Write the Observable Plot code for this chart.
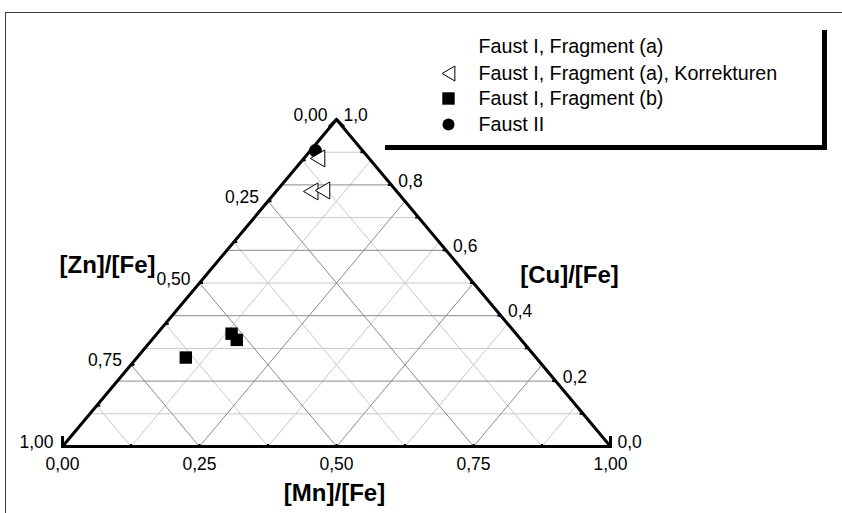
<!DOCTYPE html>
<html><head><meta charset="utf-8">
<script src="https://cdn.jsdelivr.net/npm/d3@7"></script>
<script src="https://cdn.jsdelivr.net/npm/@observablehq/plot@0.6"></script>
<style>
html,body{margin:0;padding:0;background:#fff;}
#wrap{position:relative;width:842px;height:513px;overflow:hidden;background:#fff;}
#wrap svg{position:absolute;left:0;top:0;}
#frame{position:absolute;left:5px;top:12px;width:900px;height:600px;border-left:1px solid #3c3c3c;border-top:1px solid #3c3c3c;pointer-events:none;}
#legendbox{position:absolute;left:385px;top:30px;width:437px;height:115px;border-right:5px solid #000;border-bottom:5px solid #000;pointer-events:none;}
</style></head><body>
<div id="wrap"><div id="frame"></div><div id="legendbox"></div></div>
<script>
// ---------------- data ----------------
const seriesNames = ["Faust I, Fragment (a)", "Faust I, Fragment (a), Korrekturen", "Faust I, Fragment (b)", "Faust II"];
// Faust I, Fragment (a), Korrekturen (open triangles)
const korrZn = [0.094, 0.157, 0.134];
const korrMn = [0.025, 0.063, 0.083];
const korrCu = [0.881, 0.780, 0.783];
// Faust I, Fragment (b) (filled squares)
const fragBZn = [0.639, 0.519, 0.519];
const fragBMn = [0.089, 0.136, 0.155];
const fragBCu = [0.272, 0.345, 0.326];
// Faust II (filled circle)
const faust2Zn = [0.086];
const faust2Mn = [0.009];
const faust2Cu = [0.905];
// tick labels
const mnTickValues = [0, 0.25, 0.5, 0.75, 1];
const mnTickLabels = ["0,00", "0,25", "0,50", "0,75", "1,00"];
const znTickValues = [0, 0.25, 0.5, 0.75, 1];
const znTickLabels = ["0,00", "0,25", "0,50", "0,75", "1,00"];
const cuTickValues = [0, 0.2, 0.4, 0.6, 0.8, 1];
const cuTickLabels = ["0,0", "0,2", "0,4", "0,6", "0,8", "1,0"];
const axisTitles = {zn: "[Zn]/[Fe]", mn: "[Mn]/[Fe]", cu: "[Cu]/[Fe]"};

// ---------------- layout ----------------
const X0 = 62, X1 = 610, Y0 = 446, Y1 = 119;
const ux = px => (px - X0) / (X1 - X0);
const vy = py => (Y0 - py) / (Y0 - Y1);
// ternary (Zn at bottom-left, Mn at bottom-right, Cu at top) -> cartesian
const tern = (zn, mn, cu) => ({u: mn + cu / 2, v: cu});

const pts = (zn, mn, cu) => zn.map((z, i) => tern(z, mn[i], cu[i]));
const korr = pts(korrZn, korrMn, korrCu);
const fragB = pts(fragBZn, fragBMn, fragBCu);
const faust2 = pts(faust2Zn, faust2Mn, faust2Cu);

// grid
const grid = [];
d3.range(1, 10).forEach(k => { const c = k / 10; const a = tern(1 - c, 0, c), b = tern(0, 1 - c, c);
  grid.push({x1: a.u, y1: a.v, x2: b.u, y2: b.v, major: k % 2 === 0}); });
d3.range(1, 8).forEach(k => { const m = k / 8; const a = tern(1 - m, m, 0), b = tern(0, m, 1 - m);
  grid.push({x1: a.u, y1: a.v, x2: b.u, y2: b.v, major: k % 2 === 0}); });
d3.range(1, 8).forEach(k => { const z = k / 8; const a = tern(z, 0, 1 - z), b = tern(z, 1 - z, 0);
  grid.push({x1: a.u, y1: a.v, x2: b.u, y2: b.v, major: k % 2 === 0}); });

const BL = tern(1, 0, 0), BR = tern(0, 1, 0), TP = tern(0, 0, 1);

// symbols
const sym = f => ({draw(ctx, size) { const r = Math.sqrt(size / Math.PI); f(ctx, r); }});
const triLeft = sym((c, r) => { const w = 0.85 * r, h = r; c.moveTo(-w, 0); c.lineTo(w, -h); c.lineTo(w, h); c.closePath(); });
const chevron = sym((c, r) => { c.moveTo(-r, r); c.lineTo(0, 0); c.lineTo(r, r); });
const stub = sym((c, r) => { c.moveTo(0, 0); c.lineTo(r, 0); });

const leftTicks = d3.range(1, 8).map(k => tern(k / 8, 0, 1 - k / 8));
const bottomTicks = d3.range(1, 8).map(k => tern(1 - k / 8, k / 8, 0));
const rightTicks = d3.range(1, 10).map(k => tern(0, 1 - k / 10, k / 10));

const leftLabels = znTickValues.map((z, i) => ({...tern(z, 0, 1 - z), label: znTickLabels[i]}));
const bottomLabels = mnTickValues.map((m, i) => ({...tern(1 - m, m, 0), label: mnTickLabels[i]}));
const rightLabels = cuTickValues.map((c, i) => ({...tern(0, 1 - c, c), label: cuTickLabels[i]}));

const arrowHeads = [{...BL, rot: 225}, {...BR, rot: 135}, {...TP, rot: 0}];

const legendRowsY = [46, 73, 98, 124];
const legendTextX = 478, legendSymX = 448;
const FONT = "'Liberation Sans', Arial, Helvetica, sans-serif";

const plot = Plot.plot({
  width: 842, height: 513, margin: 0,
  x: {domain: [0, 1], range: [X0, X1], axis: null},
  y: {domain: [0, 1], range: [Y0, Y1], axis: null},
  style: {fontFamily: FONT, background: "transparent", color: "black", overflow: "visible"},
  marks: [
    Plot.link(grid.filter(d => !d.major), {x1: "x1", y1: "y1", x2: "x2", y2: "y2", stroke: "#c8c8c8", strokeWidth: 1}),
    Plot.link(grid.filter(d => d.major), {x1: "x1", y1: "y1", x2: "x2", y2: "y2", stroke: "#8a8a8a", strokeWidth: 1}),
    Plot.line([BL, BR, TP, BL], {x: "u", y: "v", stroke: "black", strokeWidth: 3, strokeLinejoin: "round"}),
    Plot.dot(leftTicks, {x: "u", y: "v", symbol: stub, r: 3.5, rotate: 0, fill: "none", stroke: "black", strokeWidth: 2}),
    Plot.dot(rightTicks, {x: "u", y: "v", symbol: stub, r: 3.5, rotate: 180, fill: "none", stroke: "black", strokeWidth: 2}),
    Plot.dot(bottomTicks, {x: "u", y: "v", symbol: stub, r: 2.5, rotate: -90, fill: "none", stroke: "black", strokeWidth: 2}),
    Plot.dot(arrowHeads, {x: "u", y: "v", symbol: chevron, r: 7.5, rotate: "rot", fill: "none", stroke: "black", strokeWidth: 3, strokeLinejoin: "miter"}),
    Plot.text(leftLabels, {x: "u", y: "v", text: "label", textAnchor: "end", dx: -9, dy: -4, fontSize: 17.5}),
    Plot.text(rightLabels, {x: "u", y: "v", text: "label", textAnchor: "start", dx: 7, dy: -4, fontSize: 17.5}),
    Plot.text(bottomLabels, {x: "u", y: "v", text: "label", textAnchor: "middle", dy: 18, fontSize: 17.5}),
    // data
    Plot.dot(faust2, {x: "u", y: "v", symbol: "circle", r: 6.5, fill: "black", stroke: "none"}),
    Plot.dot(fragB, {x: "u", y: "v", symbol: "square", r: 7, fill: "black", stroke: "none"}),
    Plot.dot(korr, {x: "u", y: "v", symbol: triLeft, r: 8.5, fill: "white", stroke: "black", strokeWidth: 1}),
    // legend
    Plot.text(seriesNames, {x: () => ux(legendTextX), y: (d, i) => vy(legendRowsY[i]), text: d => d, textAnchor: "start", fontSize: 19.7}),
    Plot.dot([seriesNames[1]], {x: () => ux(legendSymX), y: () => vy(legendRowsY[1]), symbol: triLeft, r: 7.5, fill: "white", stroke: "black", strokeWidth: 1}),
    Plot.dot([seriesNames[2]], {x: () => ux(legendSymX), y: () => vy(legendRowsY[2]), symbol: "square", r: 7, fill: "black", stroke: "none"}),
    Plot.dot([seriesNames[3]], {x: () => ux(legendSymX), y: () => vy(legendRowsY[3]), symbol: "circle", r: 6, fill: "black", stroke: "none"}),
    // axis titles
    Plot.text([axisTitles.zn], {x: () => ux(107), y: () => vy(265), text: d => d, textAnchor: "middle", fontSize: 24, fontWeight: "bold"}),
    Plot.text([axisTitles.cu], {x: () => ux(569), y: () => vy(275), text: d => d, textAnchor: "middle", fontSize: 24, fontWeight: "bold"}),
    Plot.text([axisTitles.mn], {x: () => ux(334), y: () => vy(493), text: d => d, textAnchor: "middle", fontSize: 24, fontWeight: "bold"})
  ]
});
document.getElementById("wrap").prepend(plot);
</script>
</body></html>
